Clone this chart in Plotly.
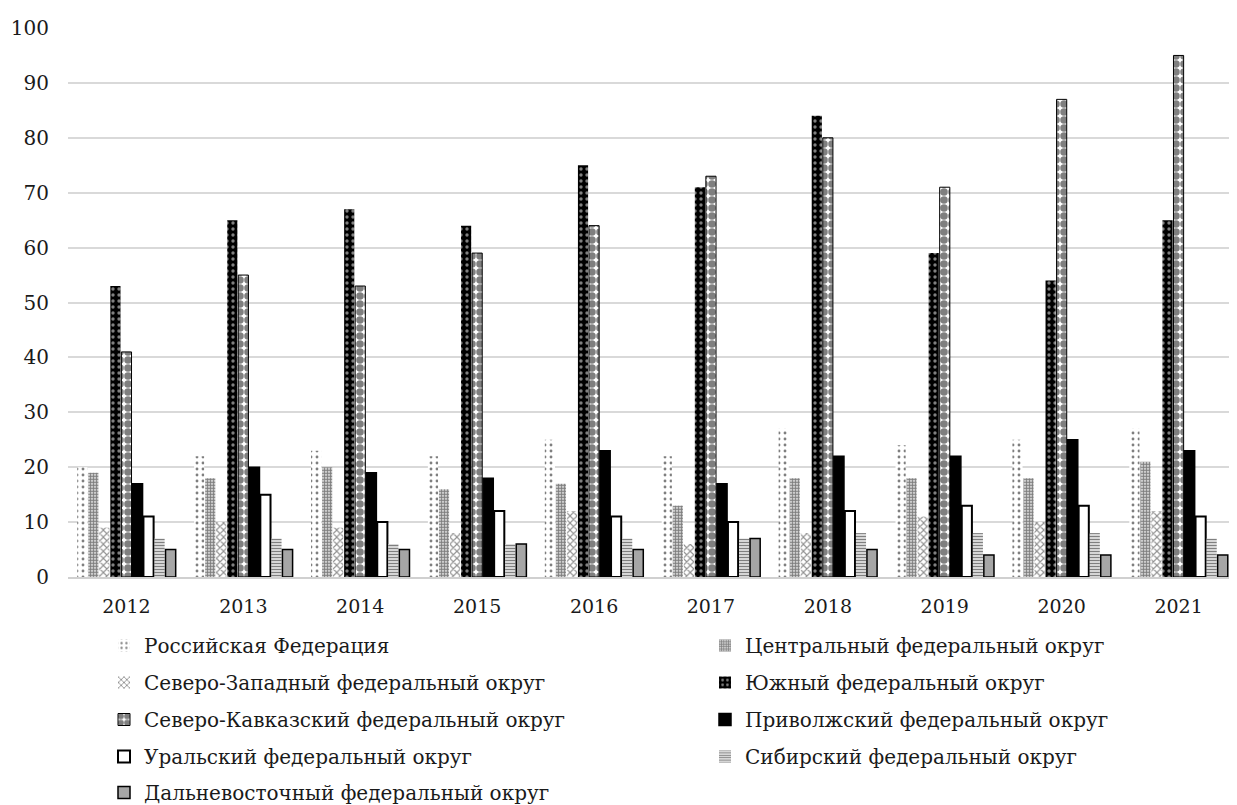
import plotly.graph_objects as go

years = ["2012", "2013", "2014", "2015", "2016", "2017", "2018", "2019", "2020", "2021"]

rf = [20, 22, 23, 22, 25, 22, 27, 24, 25, 27]
central = [19, 18, 20, 16, 17, 13, 18, 18, 18, 21]
northwest = [9, 10, 9, 8, 12, 6, 8, 11, 10, 12]
south = [53, 65, 67, 64, 75, 71, 84, 59, 54, 65]
nkavkaz = [41, 55, 53, 59, 64, 73, 80, 71, 87, 95]
volga = [17, 20, 19, 18, 23, 17, 22, 22, 25, 23]
ural = [11, 15, 10, 12, 11, 10, 12, 13, 13, 11]
siberia = [7, 7, 6, 6, 7, 7, 8, 8, 8, 7]
fareast = [5, 5, 5, 6, 5, 7, 5, 4, 4, 4]

names = [
    "Российская Федерация",
    "Центральный федеральный округ",
    "Северо-Западный федеральный округ",
    "Южный федеральный округ",
    "Северо-Кавказский федеральный округ",
    "Приволжский федеральный округ",
    "Уральский федеральный округ",
    "Сибирский федеральный округ",
    "Дальневосточный федеральный округ",
]
series = [rf, central, northwest, south, nkavkaz, volga, ural, siberia, fareast]

styles = [
    dict(color="white", line=dict(width=0), pattern=dict(shape=".", fgcolor="black", bgcolor="white", size=6, solidity=0.18)),
    dict(color="white", line=dict(width=0), pattern=dict(shape=".", fgcolor="black", bgcolor="white", size=3, solidity=0.7)),
    dict(color="white", line=dict(width=0), pattern=dict(shape="x", fgcolor="#222", bgcolor="white", size=5, solidity=0.4)),
    dict(color="black", line=dict(width=0), pattern=dict(shape=".", fgcolor="white", bgcolor="black", size=6, solidity=0.25)),
    dict(color="white", line=dict(color="black", width=1), pattern=dict(shape=".", fgcolor="black", bgcolor="white", size=8, solidity=0.7)),
    dict(color="black", line=dict(color="black", width=1.5)),
    dict(color="white", line=dict(color="black", width=2)),
    dict(color="white", line=dict(width=0), pattern=dict(shape="-", fgcolor="black", bgcolor="white", size=3, solidity=0.55)),
    dict(color="#a6a6a6", line=dict(color="black", width=1.5)),
]

font_family = "DejaVu Serif"
txt = "#1a1a1a"

W, H = 1229, 797  # page body has an 8px margin

# legend placement (figure pixels): two columns, five rows
col_x = [96, 697]
row_top = [618, 655, 692, 729, 765]

fig = go.Figure()
legend_layout = {}
for i, (nm, vals, st) in enumerate(zip(names, series, styles)):
    lid = "legend" if i == 0 else "legend%d" % (i + 1)
    fig.add_trace(go.Bar(x=years, y=vals, name=nm, marker=st, legend=lid, showlegend=True))
    legend_layout[lid] = dict(
        x=col_x[i % 2] / W, y=1 - row_top[i // 2] / H,
        xanchor="left", yanchor="top", xref="container", yref="container",
        orientation="h", font=dict(family=font_family, size=20, color=txt),
        bgcolor="rgba(0,0,0,0)", visible=True,
    )

fig.update_layout(
    width=W, height=H, showlegend=True,
    paper_bgcolor="white", plot_bgcolor="white",
    margin=dict(l=60, r=0, t=20, b=228),
    barmode="group", bargap=0.15, bargroupgap=0.08,
    font=dict(family=font_family, size=20, color=txt),
    xaxis=dict(showline=True, linecolor="#d0d0d0", linewidth=2, ticks="", automargin=False,
               tickfont=dict(family=font_family, size=19, color=txt), ticklabelstandoff=11),
    yaxis=dict(range=[0, 100], dtick=10, showgrid=True, gridcolor="#d9d9d9", gridwidth=1.5,
               zeroline=False, showline=False, ticks="", automargin=False,
               tickfont=dict(family=font_family, size=20, color=txt), ticklabelstandoff=18),
    **legend_layout,
)

fig.write_html("out.html")
